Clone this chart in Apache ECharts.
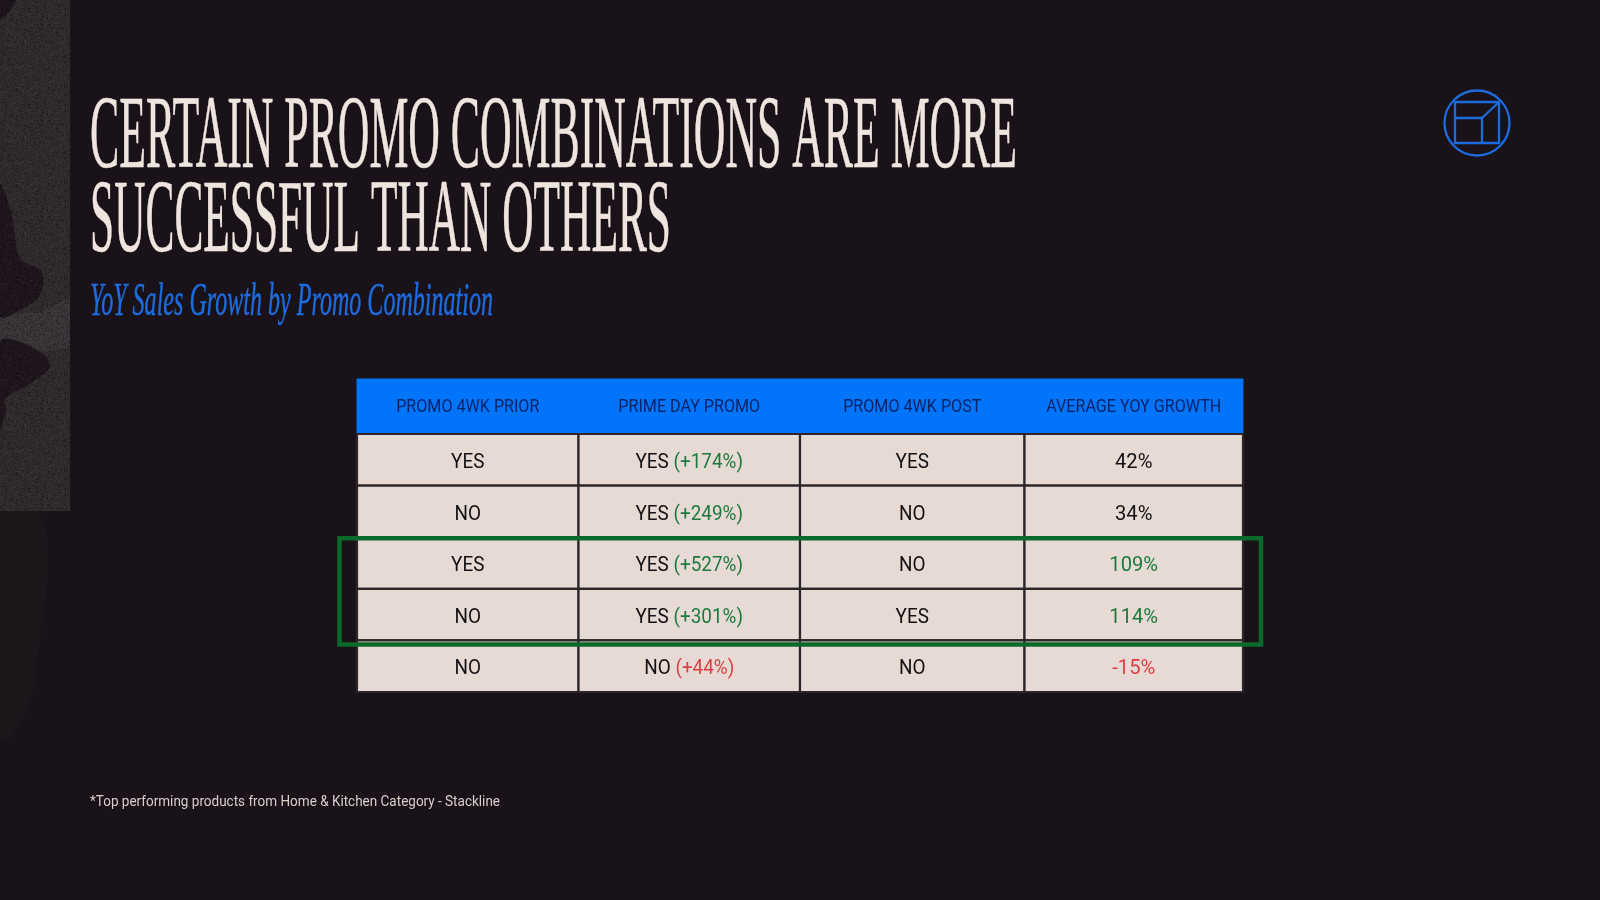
<!DOCTYPE html>
<html><head><meta charset="utf-8">
<style>html,body{margin:0;padding:0;background:#1a1219}#c{width:1600px;height:900px}</style>
<script src="https://cdn.jsdelivr.net/npm/echarts@6/dist/echarts.min.js"></script>
</head><body><div id="c"></div>
<script>
const titleLines = ['CERTAIN PROMO COMBINATIONS ARE MORE', 'SUCCESSFUL THAN OTHERS'];
const subtitle = 'YoY Sales Growth by Promo Combination';
const footnote = '*Top performing products from Home & Kitchen Category - Stackline';
const headers = ['PROMO 4WK PRIOR', 'PRIME DAY PROMO', 'PROMO 4WK POST', 'AVERAGE YOY GROWTH'];
const prior = ['YES', 'NO', 'YES', 'NO', 'NO'];
const primeDay = ['YES', 'YES', 'YES', 'YES', 'NO'];
const primeLift = [174, 249, 527, 301, 44];
const post = ['YES', 'NO', 'NO', 'YES', 'NO'];
const growth = [42, 34, 109, 114, -15];
const rowNames = ['r1', 'r2', 'r3', 'r4', 'r5'];
const highlighted = [[2, 3]];

const BG = '#1a1219', CREAM = '#efe4de', BLUE = '#1c6ce0', HEAD = '#0074fb', CELL = '#e7dad4',
      LINE = '#2b2629', GREEN = '#0b6a2b', TXT_G = '#1c7a3c', TXT_R = '#dc4044', TXT = '#141014';
// small per-column edge nudges (left, right), px: the source table's columns are not quite equal
const edgeNudge = [[0, 0], [0, 0], [0, 3], [3, 0]];

const mc = document.createElement('canvas').getContext('2d');
function fit(text, font, target) { mc.font = font; return target / mc.measureText(text).width; }
function fitted(text, font, x, y, w, fill, extra) {
  return { type: 'text', x, y, scaleX: fit(text, font, w), silent: true,
    style: Object.assign({ text, font, fill, align: 'left', verticalAlign: 'top' }, extra || {}) };
}

function tile() {
  const c = document.createElement('canvas'); c.width = c.height = 96;
  const g = c.getContext('2d');
  for (let y = 0; y < 96; y++) for (let x = 0; x < 96; x++) {
    let h = (x * 374761393 + y * 668265263) | 0; h = Math.imul(h ^ (h >>> 13), 1274126177); h ^= h >>> 16;
    const v = (h & 255) / 255;
    g.fillStyle = v > 0.55 ? 'rgba(20,14,20,' + ((v - 0.55) * 1.1).toFixed(3) + ')' : 'rgba(90,84,86,' + ((0.55 - v) * 0.35).toFixed(3) + ')';
    g.fillRect(x, y, 1, 1);
  }
  return c;
}
const poly = (points, fill, z, smooth) => ({ type: 'polygon', silent: true, z, shape: { points, smooth: smooth === undefined ? 0.35 : smooth }, style: { fill } });

const cellLabel = (col, row) => {
  if (col === 0) return '{k|' + prior[row] + '}';
  if (col === 1) return '{k|' + primeDay[row] + ' }{' + (primeLift[row] < 100 ? 'r' : 'g') + '|(+' + primeLift[row] + '%)}';
  if (col === 2) return '{k|' + post[row] + '}';
  const v = growth[row];
  return '{' + (v < 0 ? 'r' : v > 100 ? 'g' : 'k') + '|' + v + '%}';
};

const bodyData = [];
rowNames.forEach((r, j) => headers.forEach((h, i) => bodyData.push([h, r, i, j])));
const headData = headers.map(h => [h, 'head']);

const chart = echarts.init(document.getElementById('c'), null, { renderer: 'canvas' });
chart.setOption({
  backgroundColor: BG,
  animation: false,
  grid: [
    { left: 357, width: 886, top: 379, height: 55 },
    { left: 357, width: 886, top: 434, height: 258 }
  ],
  xAxis: [
    { type: 'category', gridIndex: 0, data: headers, show: false },
    { type: 'category', gridIndex: 1, data: headers, show: false }
  ],
  yAxis: [
    { type: 'category', gridIndex: 0, data: ['head'], show: false },
    { type: 'category', gridIndex: 1, data: rowNames, inverse: true, show: false }
  ],
  graphic: { elements: [
    poly([[0,512],[38,512],[48,560],[40,640],[30,700],[12,735],[0,740]], '#1c151a', 0),
    { type: 'rect', silent: true, z: 1, shape: { x: 0, y: 0, width: 70, height: 511 }, style: { fill: '#302a2d' } },
    poly([[0,316],[40,312],[70,298],[70,348],[40,352],[0,342]], '#3a3538', 1, 0),
    poly([[0,0],[16,0],[0,20]], BG, 2),
    poly([[0,185],[12,215],[20,258],[42,272],[40,295],[20,310],[0,316]], '#1b1319', 2),
    poly([[0,342],[30,346],[50,365],[30,384],[6,398],[0,420]], '#1b1319', 2),
    poly([[0,400],[6,408],[2,425],[0,430]], '#1b1319', 2),
    { type: 'rect', silent: true, z: 3, shape: { x: 0, y: 0, width: 70, height: 511 }, style: { fill: { image: tile(), repeat: 'repeat' } } },
    fitted(titleLines[0], '104px "Liberation Serif"', 90, 88, 927, CREAM, { stroke: CREAM, lineWidth: 0.6 }),
    fitted(titleLines[1], '104px "Liberation Serif"', 90, 172, 581, CREAM, { stroke: CREAM, lineWidth: 0.6 }),
    fitted(subtitle, 'italic 47px "Liberation Serif"', 90, 279, 403, BLUE, { stroke: BLUE, lineWidth: 0.5 }),
    fitted(footnote, '15px Roboto', 90, 795, 410, '#d9cfcb'),
    { type: 'circle', silent: true, shape: { cx: 1477, cy: 123, r: 32.5 }, style: { fill: null, stroke: BLUE, lineWidth: 2.3 } },
    { type: 'rect', silent: true, shape: { x: 1455, y: 102, width: 44, height: 41 }, style: { fill: null, stroke: BLUE, lineWidth: 2.3 } },
    { type: 'polyline', silent: true, shape: { points: [[1455,118],[1482,118],[1482,143]] }, style: { fill: null, stroke: BLUE, lineWidth: 2.3 } },
    { type: 'line', silent: true, shape: { x1: 1482, y1: 118, x2: 1499, y2: 102 }, style: { stroke: BLUE, lineWidth: 2.3 } }
  ] },
  series: [
    {
      type: 'custom', xAxisIndex: 0, yAxisIndex: 0, silent: true, z: 2, data: headData,
      encode: { x: 0, y: 1 },
      renderItem(params, api) {
        const p = api.coord([api.value(0), api.value(1)]), s = api.size([1, 1]);
        const n = edgeNudge[params.dataIndex];
        return { type: 'group', children: [
          { type: 'rect', shape: { x: p[0] - s[0] / 2, y: p[1] - s[1] / 2, width: s[0], height: s[1] }, style: { fill: HEAD, stroke: HEAD, lineWidth: 1 } },
          { type: 'text', x: p[0] + (n[0] + n[1]) / 2, y: p[1] + 1, scaleX: 0.92, style: { text: headers[params.dataIndex], font: '17.5px Roboto', fill: '#0a2466', align: 'center', verticalAlign: 'middle' } }
        ] };
      }
    },
    {
      type: 'custom', xAxisIndex: 1, yAxisIndex: 1, silent: true, z: 2, data: bodyData,
      encode: { x: 0, y: 1 },
      renderItem(params, api) {
        const p = api.coord([api.value(0), api.value(1)]), s = api.size([1, 1]);
        const d = bodyData[params.dataIndex], n = edgeNudge[d[2]];
        return { type: 'group', children: [
          { type: 'rect', shape: { x: p[0] - s[0] / 2 + n[0], y: p[1] - s[1] / 2, width: s[0] - n[0] + n[1], height: s[1] }, style: { fill: CELL, stroke: LINE, lineWidth: 2.2 } },
          { type: 'text', x: p[0] + (n[0] + n[1]) / 2, y: p[1] + 3, scaleX: d[2] === 3 ? 0.96 : 0.9, style: { text: cellLabel(d[2], d[3]), align: 'center', verticalAlign: 'middle',
            rich: { k: { font: '21px Roboto', fill: TXT }, g: { font: '21px Roboto', fill: TXT_G }, r: { font: '21px Roboto', fill: TXT_R } } } }
        ] };
      }
    },
    {
      type: 'custom', xAxisIndex: 1, yAxisIndex: 1, silent: true, z: 5, data: highlighted,
      renderItem(params, api) {
        const top = api.coord([0, api.value(0)]), bot = api.coord([0, api.value(1)]), s = api.size([1, 1]);
        const g = params.coordSys;
        return { type: 'rect', shape: { x: g.x - 17.5, y: top[1] - s[1] / 2 + 1, width: g.width + 35.5, height: bot[1] - top[1] + s[1] + 3 },
          style: { fill: null, stroke: GREEN, lineWidth: 4.5 } };
      }
    }
  ]
});
</script></body></html>
